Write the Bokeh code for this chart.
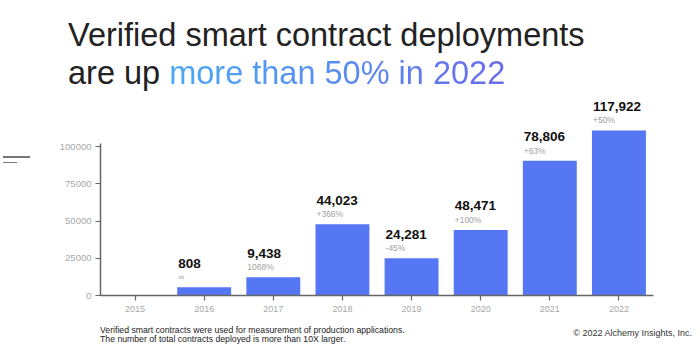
from bokeh.plotting import figure
from bokeh.models import (ColumnDataSource, FactorRange, Range1d, FixedTicker,
                          BasicTickFormatter, Div)
from bokeh.layouts import column, row
from bokeh.core.properties import value
from bokeh.embed import file_html
from bokeh.resources import INLINE

# ---- data ----
years = ["2015", "2016", "2017", "2018", "2019", "2020", "2021", "2022"]
bar_heights = [0, 5600, 12300, 47900, 25000, 44100, 90500, 110900]
value_labels = ["", "808", "9,438", "44,023", "24,281", "48,471", "78,806", "117,922"]
pct_labels = ["", "\u221e", "1068%", "+366%", "-45%", "+100%", "+63%", "+50%"]
y_ticks = [0, 25000, 50000, 75000, 100000]

title_line1 = "Verified smart contract deployments"
title_line2_plain = "are up"
title_line2_accent = "more than 50% in 2022"
footnote_lines = ["Verified smart contracts were used for measurement of production applications.",
                  "The number of total contracts deployed is more than 10X larger."]
copyright_text = "\u00a9 2022 Alchemy Insights, Inc."

FONT = "Liberation Sans"
BAR_COLOR = "#5577f4"

W = 700
TITLE_H = 92
FRAME_BOTTOM = 295
FIG_H = FRAME_BOTTOM - TITLE_H + 23
FOOT_H = 352 - TITLE_H - FIG_H
DECO_W = 40
PX_PER_UNIT = 148.8 / 100000  # vertical scale of the reference
Y_END = (FRAME_BOTTOM - TITLE_H) / PX_PER_UNIT

# ---- title ----
title_html = f"""
<div style="position:relative;width:{W}px;height:{TITLE_H}px;font-family:'{FONT}';">
  <div style="position:absolute;left:68px;top:16px;font-size:32.5px;line-height:38px;
              color:#222222;white-space:nowrap;">
    {title_line1}<br>{title_line2_plain}
    <span style="background:linear-gradient(90deg,#4aa8f6 0%,#5a8af0 55%,#6a6aee 100%);
                 -webkit-background-clip:text;background-clip:text;color:transparent;">{title_line2_accent}</span>
  </div>
</div>"""
title_div = Div(text=title_html, width=W, height=TITLE_H, margin=0)

# ---- decoration at left ----
deco_html = f"""
<div style="position:relative;width:{DECO_W}px;height:{FIG_H}px;">
  <div style="position:absolute;left:3px;top:{157 - TITLE_H - 1}px;width:27px;height:1.6px;background:#777777;"></div>
  <div style="position:absolute;left:3px;top:{162.5 - TITLE_H - 1}px;width:14px;height:1.6px;background:#777777;"></div>
</div>"""
deco_div = Div(text=deco_html, width=DECO_W, height=FIG_H, margin=0)

# ---- chart ----
src = ColumnDataSource(dict(x=years, top=bar_heights, val=value_labels, pct=pct_labels))

p = figure(width=W - DECO_W, height=FIG_H, output_backend="svg", toolbar_location=None,
           x_range=FactorRange(*years), y_range=Range1d(0, Y_END),
           min_border_left=100 - DECO_W, min_border_right=47,
           min_border_top=0, min_border_bottom=23, tools="")
p.outline_line_color = None
p.background_fill_color = "white"
p.border_fill_color = "white"
p.xgrid.visible = False
p.ygrid.visible = False

p.vbar(x="x", top="top", width=0.78, source=src, fill_color=BAR_COLOR, line_color=None)

p.text(x="x", y="top", text="val", source=src, x_offset=-26, y_offset=-24,
       text_font=value(FONT), text_font_size="13.5px", text_font_style="bold",
       text_color="#111111", text_baseline="alphabetic", text_align="left")
p.text(x="x", y="top", text="pct", source=src, x_offset=-26, y_offset=-10,
       text_font=value(FONT), text_font_size="8.5px",
       text_color="#a0a0a0", text_baseline="alphabetic", text_align="left")

ax_col = "#666666"
p.yaxis.ticker = FixedTicker(ticks=y_ticks)
p.yaxis.formatter = BasicTickFormatter(use_scientific=False)
p.yaxis.bounds = (0, 102000)
p.yaxis.minor_tick_line_color = None
p.yaxis.major_tick_in = 0
p.yaxis.major_tick_out = 5
p.yaxis.axis_line_color = ax_col
p.yaxis.axis_line_width = 1.5
p.yaxis.major_tick_line_color = ax_col
p.yaxis.major_tick_line_width = 1.2
p.yaxis.major_label_text_font = FONT
p.yaxis.major_label_text_font_size = "9.5px"
p.yaxis.major_label_text_color = "#a8a8a8"
p.yaxis.major_label_standoff = 4

p.xaxis.major_tick_in = 0
p.xaxis.major_tick_out = 5
p.xaxis.axis_line_color = ax_col
p.xaxis.axis_line_width = 1.5
p.xaxis.major_tick_line_color = ax_col
p.xaxis.major_tick_line_width = 1.2
p.xaxis.major_label_text_font = FONT
p.xaxis.major_label_text_font_size = "9px"
p.xaxis.major_label_text_color = "#a8a8a8"
p.xaxis.major_label_standoff = 5

# ---- footnotes ----
foot_html = f"""
<div style="position:relative;width:{W}px;height:{FOOT_H}px;font-family:'{FONT}';">
  <div style="position:absolute;left:100px;top:7.5px;font-size:8.7px;line-height:9px;
              color:#222222;white-space:nowrap;">{footnote_lines[0]}<br>{footnote_lines[1]}</div>
  <div style="position:absolute;right:8px;top:10px;font-size:9px;line-height:10px;
              color:#333333;white-space:nowrap;">{copyright_text}</div>
</div>"""
foot_div = Div(text=foot_html, width=W, height=FOOT_H, margin=0)

layout = column(title_div, row(deco_div, p, spacing=0), foot_div, spacing=0)

open("out.html", "w").write(file_html(layout, INLINE))
